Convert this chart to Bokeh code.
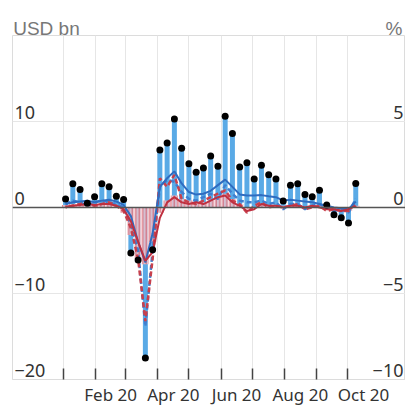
import pandas as pd
from bokeh.plotting import figure
from bokeh.models import Range1d, FixedTicker, Grid, Span, DatetimeAxis
from bokeh.core.properties import value
from bokeh.embed import file_html
from bokeh.resources import INLINE

# ---- data ----
weeks = pd.date_range("2020-01-03", periods=41, freq="7D")

flows_usd_bn = [1.0, 2.75, 2.1, 0.5, 1.26, 2.75, 2.4, 1.3, 0.92,
                -5.3, -6.1, -17.5, -4.9,
                6.7, 7.5, 10.3, 6.9, 5.1, 4.1, 4.6, 6.0, 4.8, 10.6, 8.6,
                4.7, 5.2, 3.3, 4.9, 3.8, 3.3, 0.77, 2.6, 2.75, 1.5, 1.26,
                2.0, 0.3, -0.84, -1.2, -1.8, 2.8]

pct_daily_area = [0.15, 0.2, 0.15, 0.1, 0.15, 0.2, 0.15, 0.1, -0.3,
                  -1.6, -3.0, -3.3, -2.0, -0.3,
                  0.4, 0.7, 0.5, 0.4, 0.3, 0.3, 0.4, 0.6, 0.8, 0.5,
                  0.2, -0.1, 0.0, 0.2, 0.1, 0.1, 0.1, 0.1, 0.1, 0.0, 0.1,
                  0.1, -0.1, -0.1, -0.2, -0.2, 0.1]

pct_blue_solid = [0.2, 0.3, 0.35, 0.4, 0.3, 0.4, 0.45, 0.35, 0.15,
                  -0.5, -2.0, -3.2, -1.5, 1.2,
                  1.7, 2.1, 1.4, 0.9, 0.75, 0.8, 0.97, 1.3, 1.62, 1.2,
                  0.76, 0.7, 0.7, 0.72, 0.65, 0.6, 0.4, 0.45, 0.4, 0.35, 0.3,
                  0.2, 0.1, 0.0, -0.05, -0.1, 0.35]

pct_red_solid = [0.05, 0.1, 0.15, 0.2, 0.15, 0.2, 0.2, 0.1, -0.1,
                 -0.8, -2.0, -3.1, -2.6, -0.6,
                 0.3, 0.6, 0.3, 0.2, 0.3, 0.2, 0.4, 0.6, 0.7, 0.3,
                 0.1, -0.2, -0.1, 0.2, 0.1, 0.1, 0.0, 0.1, 0.1, 0.0, 0.1,
                 0.0, -0.1, -0.1, -0.2, -0.1, 0.1]

pct_blue_dashed = [0.2, 0.4, 0.3, 0.1, 0.3, 0.4, 0.3, 0.2, 0.0,
                   -1.0, -2.5, -6.9, -2.5, 1.2,
                   1.6, 1.5, 0.9, 0.5, 0.4, 0.6, 0.8, 0.5, 1.3, 0.8,
                   0.4, 0.3, 0.3, 0.4, 0.2, 0.3, -0.1, 0.2, 0.2, -0.1, 0.1,
                   0.2, 0.0, -0.2, -0.1, -0.3, 0.5]

pct_red_dashed = [0.0, 0.1, 0.2, 0.3, 0.1, 0.2, 0.3, 0.1, -0.2,
                  -1.2, -3.0, -6.6, -3.0, 1.7,
                  1.2, 1.9, 0.5, 0.3, 0.2, 0.4, 0.6, 0.8, 1.0, 0.4,
                  0.2, -0.3, 0.1, 0.3, 0.0, 0.1, 0.0, 0.1, 0.2, -0.1, 0.0,
                  0.1, -0.2, -0.1, -0.2, -0.2, 0.3]

month_starts = pd.date_range("2020-01-01", "2020-10-01", freq="MS")
x_label_texts = ["Feb 20", "Apr 20", "Jun 20", "Aug 20", "Oct 20"]
x_label_months = ["2020-02", "2020-04", "2020-06", "2020-08", "2020-10"]

left_ticks = [10, 0, -10, -20]
left_tick_labels = ["10", "0", "\u221210", "\u221220"]
right_ticks = [5, 0, -5, -10]
right_tick_labels = ["5", "0", "\u22125", "\u221210"]

unit_labels = ["USD bn", "%"]

# ---- layout ----
DAY = 86400000.0
x_start = pd.Timestamp("2019-11-12 19:00")
x_end = pd.Timestamp("2020-11-26")

p = figure(width=405, height=408, x_axis_type="datetime",
           output_backend="svg", toolbar_location=None,
           y_axis_location=None,
           x_range=Range1d(x_start, x_end), y_range=Range1d(-20, 20),
           min_border_left=12, min_border_right=0, min_border_top=35,
           min_border_bottom=0)
p.extra_y_ranges = {"pct": Range1d(-10, 10)}
p.outline_line_color = "#dcdcdc"
p.background_fill_color = "white"
p.border_fill_color = "white"

# grids
p.xgrid.ticker = FixedTicker(ticks=[d.value / 1e6 for d in month_starts])
p.xgrid.grid_line_color = "#e6e6e6"
ygrid = Grid(dimension=1, ticker=FixedTicker(ticks=[-20, -10, 10, 20]),
             grid_line_color="#e6e6e6")
p.add_layout(ygrid)
try:
    for g in p.ygrid:
        if g is not ygrid:
            g.visible = False
except Exception:
    pass

# x axis: labels mid-month, ticks at month starts (inside)
mids = []
overrides = {}
for m, t in zip(x_label_months, x_label_texts):
    a = pd.Timestamp(m + "-01")
    b = a + pd.offsets.MonthBegin(1)
    mid = (a.value + b.value) / 2 / 1e6
    mids.append(mid)
    overrides[mid] = t
ax = p.xaxis[0]
ax.ticker = FixedTicker(ticks=mids, minor_ticks=[d.value / 1e6 for d in month_starts])
ax.major_label_overrides = overrides
ax.major_tick_line_color = None
ax.major_tick_out = 0
ax.major_tick_in = 0
ax.minor_tick_in = 11
ax.minor_tick_out = 0
ax.minor_tick_line_color = "#444444"
ax.minor_tick_line_width = 1.5
ax.axis_line_color = "#dcdcdc"
ax.major_label_standoff = 3
ax.major_label_text_font = "Noto Sans"
ax.major_label_text_font_size = "17px"
ax.major_label_text_color = "#333333"

# unit labels above the frame, as an axis with two labels
pos_left = (x_start + pd.Timedelta(days=32.8)).value / 1e6
pos_right = (x_end - pd.Timedelta(days=11.1)).value / 1e6
top_ax = DatetimeAxis(ticker=FixedTicker(ticks=[pos_left, pos_right]),
                      major_label_overrides={pos_left: unit_labels[0],
                                             pos_right: unit_labels[1]},
                      axis_line_color=None, major_tick_line_color=None,
                      major_tick_in=0, major_tick_out=0,
                      minor_tick_line_color=None, minor_tick_in=0,
                      minor_tick_out=0, major_label_standoff=-3,
                      major_label_text_font="Liberation Sans",
                      major_label_text_font_size="19px",
                      major_label_text_color="#777777")
p.add_layout(top_ax, "above")

# bars (lhs)
p.vbar(x=weeks, top=flows_usd_bn, bottom=0, width=4.8 * DAY,
       fill_color="#5aaae6", line_color=None)

# daily-style hatched area (rhs)
p.vbar(x=weeks, top=pct_daily_area, bottom=0, width=7 * DAY,
       fill_color="#f4c4cb", fill_alpha=0.8, line_color=None,
       hatch_pattern="vertical_line", hatch_color="#d0505e",
       hatch_scale=3.5, hatch_weight=1, hatch_alpha=0.8,
       y_range_name="pct")

# zero line
p.add_layout(Span(location=0, dimension="width", line_color="#555555",
                  line_width=1.5))

# lines (rhs)
p.line(weeks, pct_blue_dashed, y_range_name="pct", line_color="#3f7fd0",
       line_width=2.5, line_dash="5 3")
p.line(weeks, pct_red_dashed, y_range_name="pct", line_color="#c8404c",
       line_width=2.5, line_dash="5 3", line_dash_offset=4)
p.line(weeks, pct_blue_solid, y_range_name="pct", line_color="#2f6cc0",
       line_width=2)
p.line(weeks, pct_red_solid, y_range_name="pct", line_color="#bf3040",
       line_width=2)

# dots on bar tops
p.scatter(weeks, flows_usd_bn, size=7, fill_color="black", line_color=None)

# tick labels inside the frame
p.text(x=[x_start] * len(left_ticks), y=left_ticks, text=left_tick_labels,
       x_offset=2, y_offset=-3, text_baseline="bottom", text_align="left",
       text_font=value("Noto Sans"), text_font_size="18px",
       text_color="#333333")
p.text(x=[x_end] * len(right_ticks), y=right_ticks, text=right_tick_labels,
       y_range_name="pct", x_offset=-2, y_offset=-3, text_baseline="bottom",
       text_align="right", text_font=value("Noto Sans"),
       text_font_size="18px", text_color="#333333")

open("out.html", "w").write(file_html(p, INLINE))
